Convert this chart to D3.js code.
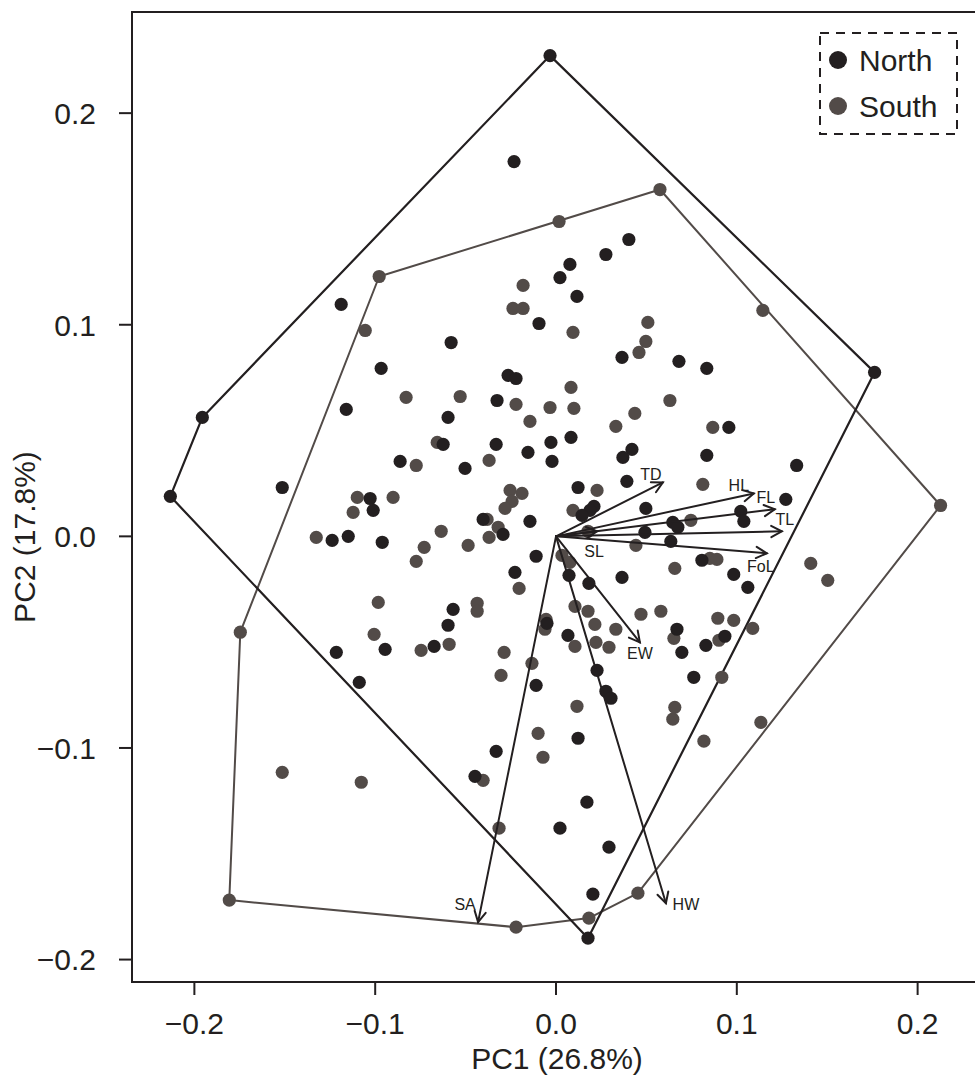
<!DOCTYPE html>
<html>
<head>
<meta charset="utf-8">
<script src="https://cdn.jsdelivr.net/npm/d3@7"></script>
<style>
  html, body { margin: 0; padding: 0; background: #fff; }
  svg { display: block; font-family: "Liberation Sans", Arial, Helvetica, sans-serif; }
</style>
</head>
<body>
<svg id="chart" width="975" height="1078"></svg>
<script>
// ---------------- DATA ----------------
const groups = ["North", "South"];

const northPC1 = [-0.0033,-0.0232,0.0403,0.0276,0.0077,0.0022,0.0116,-0.0094,-0.1188,-0.0580,
  0.0365,0.0680,0.0834,0.1762,-0.0967,-0.0265,-0.0221,-0.0326,-0.1956,-0.1160,
  -0.0597,-0.0624,-0.0331,-0.0155,-0.0028,-0.0022,-0.0862,-0.0503,-0.1514,-0.2133,
  -0.1028,-0.1011,-0.0403,-0.0293,-0.0144,-0.1238,-0.1149,-0.0961,0.0083,0.0956,
  0.0420,0.0370,0.0834,0.1331,0.0392,0.0122,0.0210,0.0188,0.0144,0.0497,
  0.1271,0.1022,0.1039,0.0646,0.0674,0.0492,0.0635,-0.0110,0.0807,0.0983,
  0.1061,0.0072,0.0365,0.0182,-0.0227,-0.0569,-0.0597,-0.0050,-0.1215,-0.0945,
  -0.0674,-0.0110,-0.1088,-0.0331,-0.0448,0.0066,0.0669,0.0696,0.0829,0.0934,
  0.0227,0.0762,0.0276,0.0304,0.0122,0.0171,0.0022,0.0293,0.0204,0.0177];
const northPC2 = [0.2272,0.1771,0.1403,0.1332,0.1285,0.1223,0.1134,0.1006,0.1096,0.0916,
  0.0846,0.0827,0.0794,0.0775,0.0794,0.0761,0.0746,0.0642,0.0562,0.0600,
  0.0562,0.0435,0.0435,0.0397,0.0444,0.0354,0.0354,0.0321,0.0231,0.0189,
  0.0179,0.0123,0.0080,0.0009,0.0071,-0.0019,0.0000,-0.0028,0.0468,0.0515,
  0.0411,0.0373,0.0383,0.0335,0.0260,0.0231,0.0142,0.0123,0.0099,0.0132,
  0.0175,0.0118,0.0071,0.0066,0.0043,0.0019,-0.0024,-0.0094,-0.0113,-0.0180,
  -0.0241,-0.0184,-0.0194,-0.0222,-0.0170,-0.0345,-0.0420,-0.0411,-0.0548,-0.0534,
  -0.0520,-0.0704,-0.0690,-0.1016,-0.1134,-0.0468,-0.0439,-0.0548,-0.0515,-0.0472,
  -0.0633,-0.0666,-0.0732,-0.0765,-0.0954,-0.1256,-0.1379,-0.1469,-0.1691,-0.1899];

const southPC1 = [0.0575,0.0017,-0.0978,-0.0182,-0.0238,-0.0182,0.1144,-0.1055,0.0508,0.0094,
  0.0497,0.0459,0.0083,-0.0829,-0.0530,-0.0221,-0.0033,0.0099,0.0630,0.0436,
  -0.0144,0.0331,0.0867,-0.0657,-0.0370,-0.0773,0.0812,0.0227,-0.1099,-0.0901,
  -0.1122,-0.0254,-0.0188,-0.0243,-0.0282,-0.0381,-0.0320,-0.0635,-0.0370,-0.1326,
  -0.0729,-0.0486,0.0094,0.0746,0.0177,0.0442,0.0033,0.0077,0.0851,0.0890,
  0.0657,0.1409,0.1503,0.2127,-0.0773,-0.0204,-0.0983,-0.0436,-0.0436,-0.0055,
  -0.0061,-0.1746,-0.1006,-0.0746,-0.0591,-0.0287,-0.0133,-0.0304,-0.0099,-0.0072,
  -0.1514,-0.1077,-0.0403,0.0105,0.0177,0.0470,0.0580,0.0215,0.0331,0.0105,
  0.0221,0.0293,0.0895,0.0983,0.1088,0.0652,0.0901,0.0917,0.0116,0.0657,
  0.0646,0.1133,0.0818,-0.0315,0.0453,0.0182,-0.0221,-0.1807];
const southPC2 = [0.1639,0.1488,0.1228,0.1186,0.1077,0.1077,0.1068,0.0973,0.1011,0.0964,
  0.0921,0.0869,0.0704,0.0657,0.0661,0.0624,0.0609,0.0605,0.0642,0.0581,
  0.0543,0.0520,0.0515,0.0444,0.0359,0.0335,0.0246,0.0217,0.0184,0.0184,
  0.0113,0.0217,0.0203,0.0165,0.0132,0.0080,0.0043,0.0024,-0.0005,-0.0005,
  -0.0052,-0.0043,0.0123,0.0076,0.0024,-0.0043,-0.0090,-0.0123,-0.0104,-0.0109,
  -0.0151,-0.0128,-0.0208,0.0146,-0.0118,-0.0246,-0.0312,-0.0316,-0.0354,-0.0392,
  -0.0439,-0.0453,-0.0463,-0.0539,-0.0510,-0.0548,-0.0600,-0.0657,-0.0931,-0.1044,
  -0.1115,-0.1162,-0.1153,-0.0331,-0.0354,-0.0368,-0.0354,-0.0416,-0.0439,-0.0520,
  -0.0501,-0.0524,-0.0387,-0.0397,-0.0435,-0.0482,-0.0491,-0.0666,-0.0803,-0.0808,
  -0.0864,-0.0879,-0.0968,-0.1379,-0.1686,-0.1804,-0.1847,-0.1719];

const loadingNames = ["TD","HL","FL","TL","FoL","SL","EW","HW","SA"];
const loadingPC1 = [0.0591,0.1094,0.1210,0.1249,0.1166,0.0227,0.0464,0.0608,-0.0431];
const loadingPC2 = [0.0255,0.0203,0.0128,0.0024,-0.0080,0.0024,-0.0501,-0.1734,-0.1823];

const xTicks = [-0.2,-0.1,0.0,0.1,0.2];
const yTicks = [-0.2,-0.1,0.0,0.1,0.2];
const xTitle = "PC1 (26.8%)";
const yTitle = "PC2 (17.8%)";

// ---------------- LAYOUT / STYLE ----------------
const colors = { North: "#231f20", South: "#524b48" };
const ink = "#231f20";
const plot = { left: 132, top: 12, right: 980, bottom: 982 };
const xDomain = [-0.2345, 0.2345];
const yDomain = [-0.2106, 0.2478];
// label offsets (px) from arrow tips
const labelOffset = {
  TD: [-12,-8], HL: [-15,-8], FL: [-9,-12], TL: [3,-12], FoL: [-6,13],
  SL: [-3,20], EW: [0,11], HW: [20,1], SA: [-13,-18]
};

const svg = d3.select("#chart");
const x = d3.scaleLinear().domain(xDomain).range([plot.left, plot.right]);
const y = d3.scaleLinear().domain(yDomain).range([plot.bottom, plot.top]);
const fmt = d3.format(".1f");

// hulls
const data = {
  North: northPC1.map((v,i) => [v, northPC2[i]]),
  South: southPC1.map((v,i) => [v, southPC2[i]])
};
const hullG = svg.append("g");
["South","North"].forEach(g => {
  const hull = d3.polygonHull(data[g].map(p => [x(p[0]), y(p[1])]));
  hullG.append("path")
    .attr("d", "M" + hull.map(p => p.join(",")).join("L") + "Z")
    .attr("fill", "none")
    .attr("stroke", colors[g])
    .attr("stroke-width", g === "North" ? 2.2 : 2)
    .attr("stroke-linejoin", "round");
});

// points
const ptG = svg.append("g");
["South","North"].forEach(g => {
  ptG.selectAll(null).data(data[g]).join("circle")
    .attr("cx", d => x(d[0]))
    .attr("cy", d => y(d[1]))
    .attr("r", 6.6)
    .attr("fill", colors[g]);
});

// loadings arrows
const arG = svg.append("g").attr("stroke", ink).attr("stroke-width", 2).attr("fill", "none")
  .attr("stroke-linecap", "round");
const head = 12, ang = 28 * Math.PI / 180;
loadingNames.forEach((name, i) => {
  const x0 = x(0), y0 = y(0), x1 = x(loadingPC1[i]), y1 = y(loadingPC2[i]);
  arG.append("line").attr("x1", x0).attr("y1", y0).attr("x2", x1).attr("y2", y1);
  const a = Math.atan2(y1 - y0, x1 - x0);
  const w1 = [x1 - head * Math.cos(a - ang), y1 - head * Math.sin(a - ang)];
  const w2 = [x1 - head * Math.cos(a + ang), y1 - head * Math.sin(a + ang)];
  arG.append("path").attr("d", `M${w1[0]},${w1[1]}L${x1},${y1}L${w2[0]},${w2[1]}`)
    .attr("stroke-linejoin", "miter");
  const off = labelOffset[name];
  svg.append("text")
    .attr("x", x1 + off[0]).attr("y", y1 + off[1])
    .attr("text-anchor", "middle").attr("dominant-baseline", "central")
    .attr("font-size", 16).attr("fill", ink)
    .text(name);
});

// frame (clipped at the right edge like the reference)
svg.append("path")
  .attr("d", `M${plot.right},${plot.top}H${plot.left}V${plot.bottom}H${plot.right}`)
  .attr("fill", "none").attr("stroke", ink).attr("stroke-width", 2);

// axes
const xAxis = svg.append("g");
xTicks.forEach(t => {
  xAxis.append("line").attr("x1", x(t)).attr("x2", x(t))
    .attr("y1", plot.bottom).attr("y2", plot.bottom + 13)
    .attr("stroke", ink).attr("stroke-width", 2);
  xAxis.append("text").attr("x", x(t)).attr("y", 1034)
    .attr("text-anchor", "middle").attr("font-size", 30).attr("fill", ink)
    .text(fmt(t));
});
const yAxis = svg.append("g");
yTicks.forEach(t => {
  yAxis.append("line").attr("x1", plot.left - 13).attr("x2", plot.left)
    .attr("y1", y(t)).attr("y2", y(t))
    .attr("stroke", ink).attr("stroke-width", 2);
  yAxis.append("text").attr("x", 96).attr("y", y(t))
    .attr("dy", "0.36em")
    .attr("text-anchor", "end").attr("font-size", 30).attr("fill", ink)
    .text(fmt(t));
});
svg.append("text").attr("x", 557).attr("y", 1069)
  .attr("text-anchor", "middle").attr("font-size", 30).attr("fill", ink).text(xTitle);
svg.append("text").attr("transform", "translate(35,537) rotate(-90)")
  .attr("text-anchor", "middle").attr("font-size", 30).attr("fill", ink).text(yTitle);

// legend
const lg = svg.append("g");
lg.append("rect").attr("x", 820).attr("y", 33).attr("width", 137).attr("height", 101)
  .attr("fill", "#fff").attr("stroke", ink).attr("stroke-width", 2)
  .attr("stroke-dasharray", "9,7");
groups.forEach((g, i) => {
  const cy = 60 + i * 46;
  lg.append("circle").attr("cx", 838).attr("cy", cy).attr("r", 9).attr("fill", colors[g]);
  lg.append("text").attr("x", 859).attr("y", cy).attr("dy", "0.36em")
    .attr("font-size", 30).attr("fill", ink).text(g);
});
</script>
</body>
</html>
